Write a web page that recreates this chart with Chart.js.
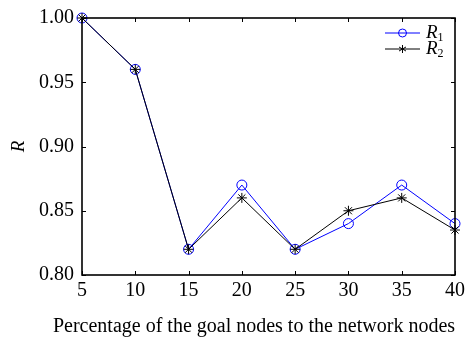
<!DOCTYPE html>
<html>
<head>
<meta charset="utf-8">
<script src="https://cdn.jsdelivr.net/npm/chart.js@4"></script>
<style>
  html, body { margin: 0; padding: 0; background: #fff; }
  #wrap { width: 469px; height: 337px; }
</style>
</head>
<body>
<div id="wrap"><canvas id="myChart" width="469" height="337"></canvas></div>
<script>
const percent = [5, 10, 15, 20, 25, 30, 35, 40];
const r1 = [1.00, 0.96, 0.82, 0.87, 0.82, 0.84, 0.87, 0.84];
const r2 = [1.00, 0.96, 0.82, 0.86, 0.82, 0.85, 0.86, 0.835];
const xTicks = [5, 10, 15, 20, 25, 30, 35, 40];
const yTicks = [0.80, 0.85, 0.90, 0.95, 1.00];
const xTitle = 'Percentage of the goal nodes to the network nodes';

const serif = '"Liberation Serif", "Times New Roman", serif';

// box around plot + inward ticks on all four sides, legend with subscripts, x title
const frame = {
  id: 'frame',
  afterDatasetsDraw(chart) {
    const { ctx, chartArea: a, scales: { x, y } } = chart;
    ctx.save();
    ctx.strokeStyle = '#000';
    ctx.lineWidth = 1;
    ctx.beginPath();
    xTicks.forEach(v => {
      const px = Math.round(x.getPixelForValue(v)) + 0.5;
      ctx.moveTo(px, a.bottom); ctx.lineTo(px, a.bottom - 4);
      ctx.moveTo(px, a.top); ctx.lineTo(px, a.top + 4);
    });
    yTicks.forEach(v => {
      const py = Math.round(y.getPixelForValue(v)) + 0.5;
      ctx.moveTo(a.left, py); ctx.lineTo(a.left + 4, py);
      ctx.moveTo(a.right, py); ctx.lineTo(a.right - 4, py);
    });
    ctx.stroke();
    ctx.lineWidth = 1.6;
    ctx.strokeRect(a.left, a.top, a.right - a.left, a.bottom - a.top);

    // legend
    const items = [
      { color: '#0000ff', sub: '1', marker: 'circle' },
      { color: '#000000', sub: '2', marker: 'star' }
    ];
    items.forEach((it, i) => {
      const ly = a.top + 15 + i * 16;
      const x0 = a.right - 70, x1 = a.right - 35;
      ctx.strokeStyle = it.color;
      ctx.lineWidth = 1;
      ctx.beginPath(); ctx.moveTo(x0, ly); ctx.lineTo(x1, ly); ctx.stroke();
      const cx = (x0 + x1) / 2;
      ctx.beginPath();
      if (it.marker === 'circle') {
        ctx.arc(cx, ly, 4, 0, Math.PI * 2);
      } else {
        for (let k = 0; k < 3; k++) {
          const ang = Math.PI / 2 + k * Math.PI / 3;
          ctx.moveTo(cx + 4 * Math.cos(ang), ly + 4 * Math.sin(ang));
          ctx.lineTo(cx - 4 * Math.cos(ang), ly - 4 * Math.sin(ang));
        }
      }
      ctx.stroke();
      ctx.fillStyle = '#000';
      ctx.textBaseline = 'middle';
      ctx.textAlign = 'left';
      ctx.font = 'italic 19px ' + serif;
      ctx.fillText('R', x1 + 6, ly);
      const w = ctx.measureText('R').width;
      ctx.font = '12px ' + serif;
      ctx.fillText(it.sub, x1 + 6 + w, ly + 5);
    });

    // x axis title (sits left of the plot centre in the original)
    ctx.fillStyle = '#000';
    ctx.textAlign = 'center';
    ctx.textBaseline = 'middle';
    ctx.font = '20px ' + serif;
    ctx.fillText(xTitle, 254, 327);
    ctx.restore();
  }
};

new Chart(document.getElementById('myChart').getContext('2d'), {
  type: 'line',
  data: {
    datasets: [
      {
        label: 'R2',
        data: percent.map((p, i) => ({ x: p, y: r2[i] })),
        borderColor: '#000000',
        backgroundColor: '#000000',
        borderWidth: 1,
        pointStyle: 'star',
        pointRadius: 5,
        pointBorderWidth: 1,
        tension: 0,
        clip: false,
        order: 0
      },
      {
        label: 'R1',
        data: percent.map((p, i) => ({ x: p, y: r1[i] })),
        borderColor: '#0000ff',
        backgroundColor: 'rgba(0,0,0,0)',
        borderWidth: 1,
        pointStyle: 'circle',
        pointRadius: 5,
        pointBorderWidth: 1,
        tension: 0,
        clip: false,
        order: 1
      }
    ]
  },
  options: {
    responsive: false,
    animation: false,
    layout: { padding: { left: 8, right: 13, top: 0, bottom: 0 } },
    plugins: { legend: { display: false }, tooltip: { enabled: false } },
    scales: {
      x: {
        type: 'linear',
        min: 5, max: 40,
        afterBuildTicks: s => { s.ticks = xTicks.map(v => ({ value: v })); },
        afterFit: s => { s.height = 62; },
        grid: { display: false, drawTicks: false },
        border: { display: false },
        ticks: { color: '#000', font: { family: serif, size: 20 }, padding: 4, maxRotation: 0 }
      },
      y: {
        min: 0.80, max: 1.00,
        afterBuildTicks: s => { s.ticks = yTicks.map(v => ({ value: v })); },
        afterFit: s => { s.width = 74; },
        grid: { display: false, drawTicks: false },
        border: { display: false },
        ticks: {
          color: '#000',
          font: { family: serif, size: 20, lineHeight: 1 },
          padding: 8,
          callback: v => Number(v).toFixed(2)
        },
        title: {
          display: true,
          text: 'R',
          color: '#000',
          font: { family: serif, size: 19, style: 'italic' },
          padding: { top: 0, bottom: 0 }
        }
      }
    }
  },
  plugins: [frame]
});
</script>
</body>
</html>
